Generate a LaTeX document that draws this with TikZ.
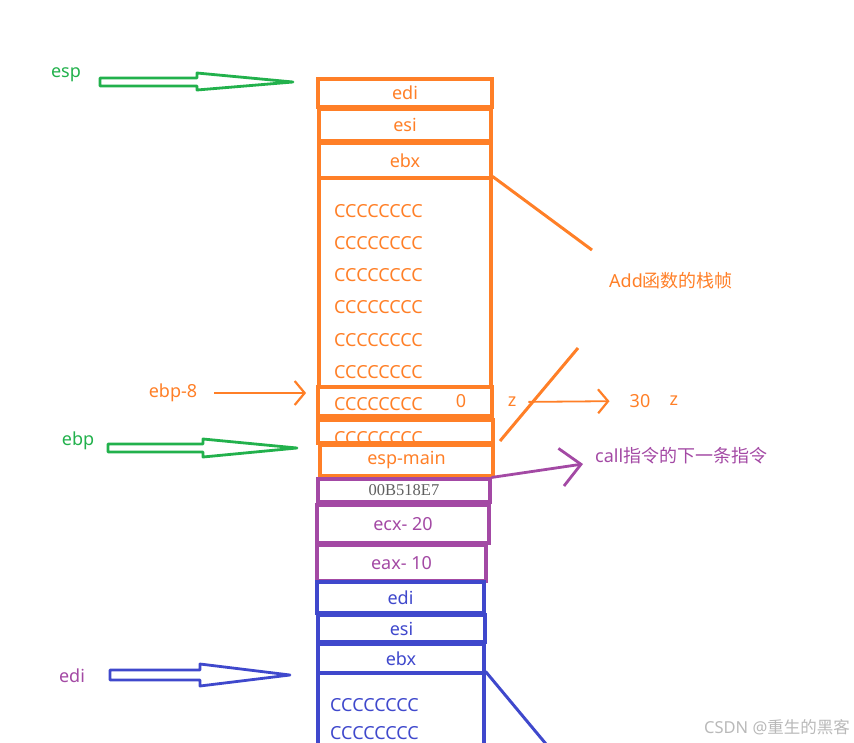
\documentclass[tikz,border=0pt]{standalone}
\usepackage{fontspec}
\setmainfont{Noto Sans}
\newfontfamily\cjk{Noto Sans CJK SC}
\newfontfamily\hexfont{Liberation Serif}
\definecolor{paintorange}{RGB}{255,127,39}
\definecolor{paintgreen}{RGB}{34,177,76}
\definecolor{paintpurple}{RGB}{163,73,164}
\definecolor{paintblue}{RGB}{63,72,204}
\definecolor{hexgray}{RGB}{95,95,95}
\definecolor{markgray}{RGB}{185,185,185}
\usetikzlibrary{arrows.meta,positioning}

\begin{document}
\begin{tikzpicture}[x=1pt, y=-1pt, font=\fontsize{18}{21}\selectfont,
    cell/.style={draw, line width=3.1pt, inner sep=0pt},
    lbl/.style={inner sep=0pt},
    barb/.style={-{Straight Barb[length=10pt,width=24pt,line width=2.2pt]}, line width=2.2pt},
    hollow/.style={line width=2.8pt, line join=round}]
  \useasboundingbox (0,0) rectangle (854,742);
  \clip (0,0) rectangle (854,742);

  % filler rows of the Add frame (drawn first, borders go over them)
  \foreach \i/\yy in {1/211,2/243,3/275,4/307,5/340,6/372,7/404,8/438}
    \node[lbl, paintorange, anchor=west] (crow\i) at (334,\yy) {CCCCCCCC};
  \foreach \i/\yy in {1/705,2/733}
    \node[lbl, paintblue, anchor=west] (brow\i) at (330,\yy) {CCCCCCCC};

  % Add frame
  \node[cell, paintorange, minimum width=174, minimum height=28] (oedi) at (405,93) {edi};
  \node[cell, paintorange, minimum width=172, minimum height=32] (oesi) at (405,125) {esi};
  \node[cell, paintorange, minimum width=172, minimum height=35] (oebx) at (405,160.5) {ebx};
  \node[cell, paintorange, minimum width=172, minimum height=209] (olocals) at (405,282.5) {};
  \node[cell, paintorange, line width=3.8pt, minimum width=174, minimum height=29] (ovarz) at (405,401.5) {};
  \node[lbl, paintorange] (zero) at (461,401) {0};
  \node[cell, paintorange, line width=3.8pt, minimum width=175, minimum height=23] (ocut) at (405.5,431.5) {};
  \node[cell, paintorange, minimum width=173, minimum height=31] (espmain) at (406.5,460.5) {esp-main};

  % return address and arguments
  \node[cell, paintpurple, minimum width=172, minimum height=23, text=hexgray, font=\hexfont\fontsize{16.5}{18}\selectfont] (retaddr) at (404,490.5) {00B518E7};
  \node[cell, paintpurple, minimum width=172, minimum height=38] (argecx) at (403,524) {ecx- 20};
  \node[cell, paintpurple, minimum width=169, minimum height=36] (argeax) at (401.5,563) {eax- 10};

  % main frame
  \node[cell, paintblue, minimum width=167, minimum height=31] (bedi) at (400.5,597.5) {edi};
  \node[cell, paintblue, minimum width=167, minimum height=27] (besi) at (401.5,628.5) {esi};
  \node[cell, paintblue, minimum width=166, minimum height=29] (bebx) at (401,658.5) {ebx};
  \node[cell, paintblue, minimum width=166, minimum height=107] (blocals) at (401,726.5) {};

  % pointer labels
  \node[lbl, paintgreen] (espl) at (66,75) {esp};
  \node[lbl, paintgreen] (ebpl) at (78,441) {ebp};
  \node[lbl, paintpurple] (edil) at (72,676) {edi};
  \node[lbl, paintorange] (ebp8) at (173,393) {ebp-8};

  % hollow pointer arrows
  \draw[hollow, paintgreen] (100,78) -- (197,78) -- (197,73) -- (293,82) -- (197,90) -- (197,86) -- (100,86) -- cycle;
  \draw[hollow, paintgreen] (108,444) -- (203,444) -- (203,439) -- (297,448) -- (203,457) -- (203,452) -- (108,452) -- cycle;
  \draw[hollow, paintblue] (110,670) -- (200,670) -- (200,664) -- (290,675) -- (200,686) -- (200,680) -- (110,680) -- cycle;

  \draw[barb, paintorange, shorten <=17pt, shorten >=10pt] (ebp8.east) -- (ebp8.east -| ovarz.west);

  % frame bracket
  \coordinate (frametop) at (592,250);
  \coordinate (framelow) at (578,348);
  \coordinate (framefoot) at (500,441);
  \draw[paintorange, line width=3pt] (olocals.north east) -- (frametop);
  \draw[paintorange, line width=3pt] (framelow) -- (framefoot);
  \node[lbl, paintorange] (framenote) at (671,281) {Add{\cjk 函数的栈帧}};

  % z gets 30
  \node[lbl, paintorange] (zlbl) at (512,402) {z};
  \node[lbl, paintorange] (zval) at (640,401) {30};
  \node[lbl, paintorange, right=19pt of zval] (zname) {z};
  \draw[barb, paintorange, line width=1.8pt, shorten <=12pt, shorten >=20pt] (zlbl.east) -- (zval.west);

  % return address note
  \coordinate (calltip) at (583,464);
  \draw[paintpurple, line width=2.8pt, -{Straight Barb[length=20pt,width=38pt,line width=2.8pt]}] (retaddr.north east) -- (calltip);
  \node[lbl, paintpurple, anchor=west] (callnote) at (595,456) {call{\cjk 指令的下一条指令}};

  \coordinate (bluefoot) at (556,756);
  \draw[paintblue, line width=3pt] (blocals.north east) -- (bluefoot);

  \node[lbl, markgray, font=\fontsize{16.5}{18}\selectfont] (mark) at (777,727) {CSDN @{\cjk 重生的黑客}};
\end{tikzpicture}
\end{document}
